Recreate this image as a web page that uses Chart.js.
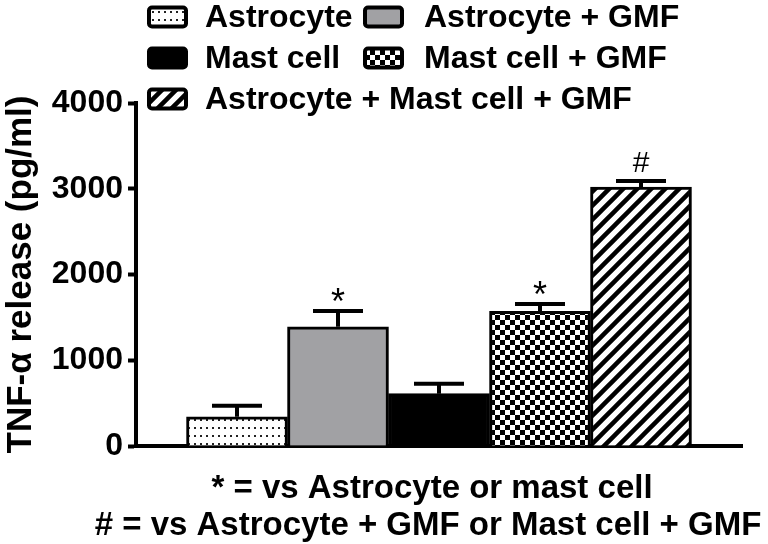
<!DOCTYPE html>
<html>
<head>
<meta charset="utf-8">
<script src="https://cdn.jsdelivr.net/npm/chart.js@4/dist/chart.umd.min.js"></script>
<style>
  html, body { margin: 0; padding: 0; background: #fff; }
  canvas { display: block; }
</style>
</head>
<body>
<canvas id="grafico" width="768" height="544"></canvas>
<script>
// Dados
const categorias = ['Astrocyte', 'Astrocyte + GMF', 'Mast cell', 'Mast cell + GMF', 'Astrocyte + Mast cell + GMF'];
const valores = [340, 1390, 610, 1570, 3020];
const erros = [130, 185, 115, 85, 70];
const marcas = ['', '*', '', '*', '#'];
const notas = ['* = vs Astrocyte or mast cell', '# = vs Astrocyte + GMF or Mast cell + GMF'];
const yMin = 0, yMax = 4000, yPasso = 1000;

const fonte = '"Liberation Sans", Arial, sans-serif';

// Padrões de preenchimento
function tile(w, h, draw) {
  const c = document.createElement('canvas');
  c.width = w; c.height = h;
  const g = c.getContext('2d');
  draw(g, w, h);
  return c;
}
const ctx = document.getElementById('grafico').getContext('2d');

const pontos = ctx.createPattern(tile(6, 8, (g, w, h) => {
  g.fillStyle = '#fff'; g.fillRect(0, 0, w, h);
  g.fillStyle = '#222'; g.fillRect(2, 3, 2, 2);
}), 'repeat');

const xadrez = ctx.createPattern(tile(10, 10, (g, w, h) => {
  g.fillStyle = '#fff'; g.fillRect(0, 0, w, h);
  g.fillStyle = '#000'; g.fillRect(0, 0, 5, 5); g.fillRect(5, 5, 5, 5);
}), 'repeat');

const listras = ctx.createPattern(tile(14, 14, (g, s) => {
  g.fillStyle = '#fff'; g.fillRect(0, 0, s, s);
  g.strokeStyle = '#000'; g.lineWidth = 4.5;
  g.beginPath();
  g.moveTo(-2, s + 2); g.lineTo(s + 2, -2);
  g.moveTo(-3, 3); g.lineTo(3, -3);
  g.moveTo(s - 3, s + 3); g.lineTo(s + 3, s - 3);
  g.stroke();
}), 'repeat');

const preenchimentos = [pontos, '#a1a1a4', '#000', xadrez, listras];

// Barras de erro, marcas de significância, legenda e notas
const extras = {
  id: 'extras',
  afterDatasetsDraw(chart) {
    const c = chart.ctx;
    const xs = chart.scales.x, ys = chart.scales.y;
    c.save();
    c.strokeStyle = '#000';
    c.fillStyle = '#000';
    c.lineWidth = 4;
    valores.forEach((v, i) => {
      const x = xs.getPixelForValue(i);
      const y0 = ys.getPixelForValue(v);
      const y1 = ys.getPixelForValue(v + erros[i]);
      c.beginPath();
      c.moveTo(x, y0); c.lineTo(x, y1);
      c.moveTo(x - 25, y1); c.lineTo(x + 25, y1);
      c.stroke();
      if (marcas[i] === '*') {
        c.font = '36px ' + fonte;
        c.textAlign = 'center'; c.textBaseline = 'alphabetic';
        c.fillText('*', x, y1 + 3);
      } else if (marcas[i] === '#') {
        c.font = '30px ' + fonte;
        c.textAlign = 'center'; c.textBaseline = 'alphabetic';
        c.fillText('#', x, y1 - 9);
      }
    });
    c.restore();
  },
  afterDraw(chart) {
    const c = chart.ctx;
    c.save();
    // legenda
    const itens = [
      [0, 147, 17, 205], [1, 363, 17, 424],
      [2, 147, 58, 205], [3, 363, 58, 424],
      [4, 147, 99, 205]
    ];
    c.font = 'bold 32px ' + fonte;
    c.textBaseline = 'middle';
    c.textAlign = 'left';
    itens.forEach(([i, xi, yc, xt]) => {
      const w = 41, h = 23;
      c.beginPath();
      c.roundRect(xi + 2, yc - h / 2 + 2, w - 4, h - 4, 3);
      c.fillStyle = preenchimentos[i];
      c.fill();
      c.lineWidth = 4;
      c.strokeStyle = '#000';
      c.stroke();
      c.fillStyle = '#000';
      c.fillText(categorias[i], xt, yc + 1);
    });
    // notas
    c.font = 'bold 33px ' + fonte;
    c.textAlign = 'center';
    c.textBaseline = 'alphabetic';
    c.fillText(notas[0], 432, 498);
    c.fillText(notas[1], 428, 535);
    c.restore();
  }
};

new Chart(ctx, {
  type: 'bar',
  data: {
    datasets: [{
      data: valores.map((v, i) => ({ x: i, y: v })),
      backgroundColor: preenchimentos,
      borderColor: '#000',
      borderWidth: 3,
      borderSkipped: 'bottom',
      barPercentage: 1,
      categoryPercentage: 1
    }]
  },
  options: {
    responsive: false,
    animation: false,
    devicePixelRatio: 1,
    layout: { padding: { top: 103, bottom: 98, left: 0, right: 26 } },
    plugins: { legend: { display: false }, tooltip: { enabled: false } },
    scales: {
      x: {
        type: 'linear', min: -1, max: 5, offset: false,
        ticks: { display: false },
        grid: { display: false },
        border: { display: true, width: 4, color: '#000' },
        afterFit: s => { s.height = 0; }
      },
      y: {
        min: yMin, max: yMax,
        ticks: {
          stepSize: yPasso, color: '#000', padding: 5,
          font: { family: fonte, size: 32, weight: 'bold' },
          callback: v => String(v)
        },
        grid: { drawOnChartArea: false, drawTicks: true, tickLength: 8, tickWidth: 4, tickColor: '#000' },
        border: { width: 4, color: '#000' },
        title: { display: true, text: 'TNF-α release (pg/ml)', color: '#000', padding: 0, font: { family: fonte, size: 35, weight: 'bold' } },
        afterFit: s => { s.width = 136; }
      }
    }
  },
  plugins: [extras]
});
</script>
</body>
</html>
